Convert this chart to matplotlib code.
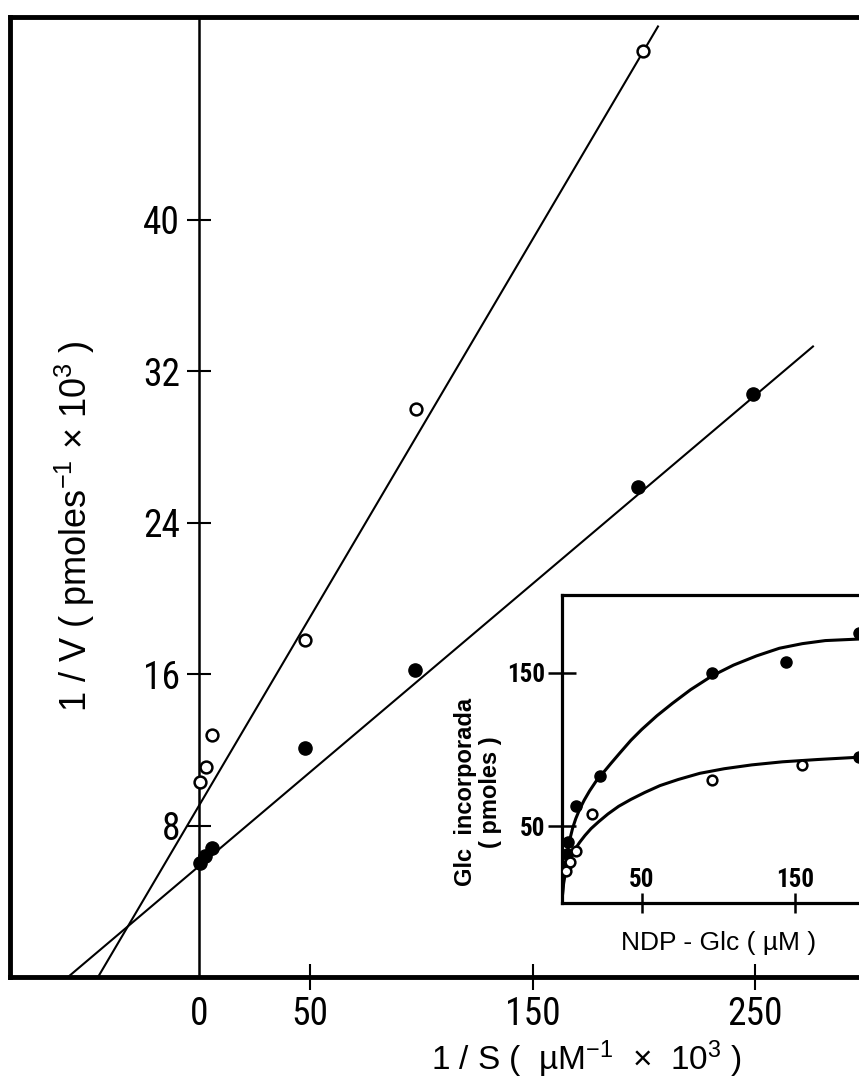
import matplotlib
matplotlib.use("Agg")
import matplotlib.pyplot as plt
from matplotlib import font_manager


def pick_font(names):
    for n in names:
        try:
            font_manager.findfont(font_manager.FontProperties(family=n),
                                  fallback_to_default=False)
            return n
        except ValueError:
            pass
    return "DejaVu Sans"


def pick_narrow():
    # narrow face for the digits, if one is installed
    entries = font_manager.fontManager.ttflist
    for want in ["Liberation Sans Narrow", "DejaVu Sans Condensed",
                 "Roboto Condensed", "Open Sans Condensed", "Noto Sans Condensed"]:
        for f in entries:
            if f.name == want:
                return f.name, "normal"
    for fam in ["DejaVu Sans", "Noto Sans", "Roboto", "Open Sans"]:
        for f in entries:
            if f.name == fam and f.stretch in ("condensed", "semi-condensed"):
                return fam, f.stretch
    return None, None


FONT = pick_font(["Liberation Sans", "DejaVu Sans"])
NARROW, STRETCH = pick_narrow()
plt.rcParams["font.family"] = [FONT, "DejaVu Sans"]
plt.rcParams["mathtext.fontset"] = "custom"
plt.rcParams["mathtext.rm"] = FONT
plt.rcParams["mathtext.it"] = FONT
plt.rcParams["mathtext.bf"] = FONT + ":bold"

# Lineweaver-Burk plot (main)
main_open_x = [0.4, 3.1, 5.7, 47.5, 97.4, 199.6]
main_open_y = [10.3, 11.1, 12.8, 17.8, 30.0, 48.9]
main_filled_x = [0.4, 2.7, 5.7, 47.5, 97.1, 197.4, 249.0]
main_filled_y = [6.0, 6.4, 6.8, 12.1, 16.2, 25.9, 30.8]
fit_open_x = [-45.4, 206.4]
fit_open_y = [0.0, 50.2]
fit_filled_x = [-58.9, 276.1]
fit_filled_y = [0.0, 33.3]
main_xticks = [0, 50, 150, 250]
main_yticks = [8, 16, 24, 32, 40]

# saturation curves (inset)
inset_filled_x = [0.5, 1.0, 2.0, 7, 23, 96, 144, 192, 192]
inset_filled_y = [24, 32, 40, 63, 83, 150, 157, 176, 95]
inset_open_x = [0.5, 3.3, 7, 17.5, 96, 154.5]
inset_open_y = [21, 27, 34, 58, 80, 90]
curve_filled_x = [-2, -1.5, -0.8, 0, 1, 2.2, 3.5, 5, 7, 9.5, 12.5, 16, 20, 25, 30,
                  36, 43, 50, 60, 70, 82, 96, 110, 125, 140, 155, 170, 192]
curve_filled_y = [0, 8, 16, 23, 30, 37, 43, 49, 55, 61, 67, 73, 79, 85, 91,
                  98, 106, 113, 122, 130, 139, 148, 155, 161, 166, 169, 171, 172]
curve_open_x = [-2, -1.7, -1.3, -0.6, 0.5, 2, 4, 6.5, 9.5, 13, 17, 22, 28, 35,
                43, 52, 62, 74, 88, 104, 122, 142, 165, 192]
curve_open_y = [0, 5, 10, 15, 20, 25, 30, 35, 39.5, 44, 48.5, 53, 58, 63,
                67.5, 72, 76.5, 80.5, 84.5, 87.5, 90, 92, 93.5, 95]
inset_xticks = [50, 150]
inset_yticks = [50, 150]

W, H = 859, 1079
fig = plt.figure(figsize=(W / 100, H / 100), dpi=100)

ax = fig.add_axes([10 / W, (H - 977) / H, 1 - 10 / W, (977 - 17) / H])
ax.set_xlim(-85, 296.8)
ax.set_ylim(0, 50.7)
ax.spines["left"].set_position(("data", 0))
ax.spines["left"].set_linewidth(1.8)
ax.spines["right"].set_visible(False)
ax.spines["top"].set_linewidth(3.5)
ax.spines["bottom"].set_linewidth(3.5)
ax.axvline(-85, color="k", lw=3.5, clip_on=False, solid_capstyle="projecting")

ax.plot(fit_open_x, fit_open_y, color="k", lw=1.5)
ax.plot(fit_filled_x, fit_filled_y, color="k", lw=1.5)
ax.plot(main_filled_x, main_filled_y, "o", ms=9.5, color="k", zorder=4)
ax.plot(main_open_x, main_open_y, "o", ms=8.5, mfc="white", mec="k", mew=1.8, zorder=4)

ax.set_xticks(main_xticks)
ax.set_yticks(main_yticks)
ax.tick_params(axis="y", direction="inout", length=17, width=1.5, labelsize=27, pad=5)
ax.tick_params(axis="x", direction="inout", length=19, width=1.5, labelsize=27, pad=4)
ax.xaxis.get_major_ticks()[0].tick1line.set_visible(False)

fig.text(586 / W, (H - 1059) / H, "1 / S (  µM$^{-1}$  ×  10$^{3}$ )",
         fontsize=24, ha="center", va="center")
fig.text(75 / W, (H - 526) / H, "1 / V ( pmoles$^{-1}$ × 10$^{3}$ )",
         fontsize=26, ha="center", va="center", rotation=90)

# inset
axi = fig.add_axes([562 / W, (H - 903) / H, 1 - 562 / W, (903 - 595) / H])
axi.set_xlim(-2, 192)
axi.set_ylim(0, 200.7)
for s in ["left", "bottom", "top"]:
    axi.spines[s].set_linewidth(2.3)
axi.spines["right"].set_visible(False)
axi.plot(curve_filled_x, curve_filled_y, color="k", lw=2.2)
axi.plot(curve_open_x, curve_open_y, color="k", lw=2.2)
axi.plot(inset_filled_x, inset_filled_y, "o", ms=8, color="k", zorder=4)
axi.plot(inset_open_x, inset_open_y, "o", ms=7, mfc="white", mec="k", mew=1.8, zorder=5)
axi.set_xticks(inset_xticks)
axi.set_yticks(inset_yticks)
axi.tick_params(axis="y", direction="inout", length=20, width=1.8, labelsize=18, pad=2)
axi.tick_params(axis="x", direction="inout", length=15, width=1.8, labelsize=18, pad=-33)
for lab in axi.get_xticklabels() + axi.get_yticklabels():
    lab.set_fontweight("bold")

if NARROW:
    for lab in ax.get_xticklabels() + ax.get_yticklabels() + \
            axi.get_xticklabels() + axi.get_yticklabels():
        lab.set_family([NARROW, FONT])
        lab.set_fontstretch(STRETCH)

fig.text(719 / W, (H - 943) / H, "NDP - Glc ( µM )", fontsize=19,
         ha="center", va="center")
fig.text(478 / W, (H - 792) / H, "Glc  incorporada\n( pmoles )", fontsize=17,
         fontweight="bold", ha="center", va="center", rotation=90,
         multialignment="center", linespacing=1.1)

fig.savefig("out.png", dpi=100)
